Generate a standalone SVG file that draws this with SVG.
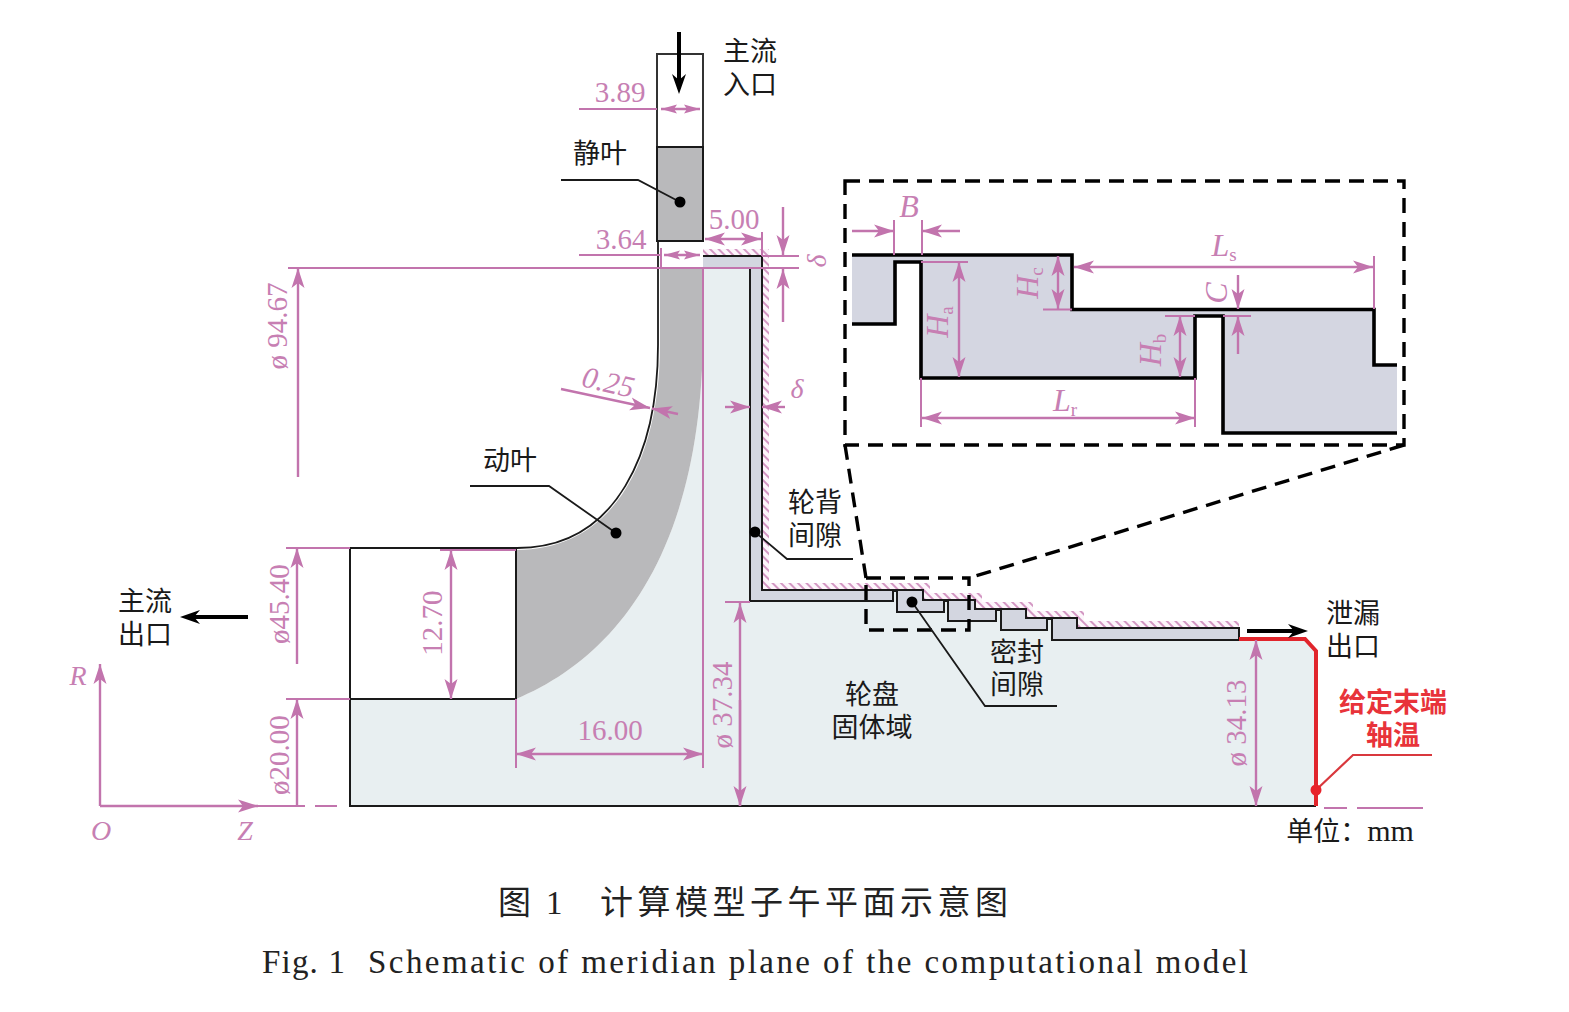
<svg xmlns="http://www.w3.org/2000/svg" width="1569" height="1012" viewBox="0 0 1569 1012">
<style>
.d{stroke:#c274ad;stroke-width:2;fill:none}
.da{stroke:#c274ad;stroke-width:2.4;fill:none;marker-start:url(#a);marker-end:url(#a)}
.de{stroke:#c274ad;stroke-width:2.4;fill:none;marker-end:url(#a)}
.ds{stroke:#c274ad;stroke-width:2.4;fill:none;marker-start:url(#as);marker-end:url(#as)}
.k{stroke:#1a1a1a;stroke-width:2;fill:none}
.ks{stroke:#000;stroke-width:3.6;fill:none}
.bd{stroke:#000;stroke-width:3.4;fill:none;stroke-dasharray:15 9}
.l{stroke:#1a1a1a;stroke-width:1.8;fill:none}
.cn{font-family:"Noto Sans CJK SC",sans-serif;font-size:27px;fill:#1a1a1a;text-anchor:middle}
.n{font-family:"Liberation Serif",serif;font-size:29px;fill:#c77fb3;text-anchor:middle}
.i{font-family:"Liberation Serif",serif;font-style:italic;font-size:28px;fill:#c77fb3;text-anchor:middle}
.b{font-size:32px}
.sub{font-size:19px;font-style:normal}
.red{fill:#e8333a;font-weight:700}
.arw{stroke:#000;stroke-width:4;fill:none;marker-end:url(#k)}
</style>
<defs>
<marker id="a" markerUnits="userSpaceOnUse" markerWidth="22" markerHeight="16" refX="20" refY="8" orient="auto-start-reverse"><path d="M0,1.5 L20,8 L0,14.5 L5,8 Z" fill="#c274ad"/></marker>
<marker id="as" markerUnits="userSpaceOnUse" markerWidth="18" markerHeight="10" refX="16" refY="5" orient="auto-start-reverse"><path d="M0,0.5 L16,5 L0,9.5 L3,5 Z" fill="#c274ad"/></marker>
<marker id="k" markerUnits="userSpaceOnUse" markerWidth="24" markerHeight="18" refX="14" refY="9" orient="auto"><path d="M2,2 L22,9 L2,16 L8,9 Z" fill="#000"/></marker>
<pattern id="h" width="6" height="6" patternUnits="userSpaceOnUse" patternTransform="rotate(-45)"><rect width="6" height="6" fill="#fdf6fb"/><line x1="2" y1="0" x2="2" y2="6" stroke="#cf8dbd" stroke-width="1.8"/></pattern>
</defs>
<rect width="1569" height="1012" fill="#fff"/>

<g id="disk">
<path d="M350,699 H516 C610,660 703,560 703,330 V268 H750 V601 H893 V591 H897 V612 H944 V601 H948 V621 H996 V610 H1001 V630 H1047 V619 H1052 V640 H1239 L1305,639 L1316,651 V806 H350 Z" fill="#e8eff1"/>
</g>
<g id="hatch">
<path d="M703,249 H769 V583 H930 V593 H982 V602 H1033 V611 H1084 V621 H1239 V628 H1077 V618 H1026 V609 H975 V600 H923 V590 H762 V256 H703 Z" fill="url(#h)"/>
</g>
<g id="gap">
<path d="M703,256 H762 V590 H923 V600 H975 V609 H1026 V618 H1077 V628 H1239 V640 H1052 V619 H1047 V630 H1001 V610 H996 V621 H948 V601 H944 V612 H897 V591 H893 V601 H750 V268 H703 Z" fill="#d3d6e0"/>
<path class="k" d="M703,256 H762 V590 H923 V600 H975 V609 H1026 V618 H1077 V628 H1239 V640 H1052 V619 H1047 V630 H1001 V610 H996 V621 H948 V601 H944 V612 H897 V591 H893 V601 H750 V268 H703"/>
</g>
<g id="rotor-blade">
<path d="M660,268 H703 V330 C703,560 610,660 516,699 V550 C620,550 660,450 660,345 Z" fill="#b9b9bb"/>
<path d="M658,241 V345 C658,450 618,548 517,548 H350" fill="none" stroke="#1a1a1a" stroke-width="1.8"/>
</g>
<g id="outlet-duct"><path class="k" d="M350,548 V806 H1316 M350,699 H516 V548"/></g>
<g id="inlet">
<rect x="657" y="54" width="46" height="93" fill="#fff" stroke="#333" stroke-width="2"/>
<rect x="657" y="147" width="46" height="94" fill="#b9b9bb" stroke="#1a1a1a" stroke-width="2"/>
</g>
<g id="tip-red"><path d="M1239,639 H1305 L1316,651 V806" fill="none" stroke="#e1252c" stroke-width="4"/><path d="M1316,790 L1353,755 H1432" fill="none" stroke="#d9383d" stroke-width="2.2"/><circle cx="1316" cy="790" r="5.5" fill="#e8222a"/></g>

<g id="dimensions">
<path class="d" d="M288,268 H799 M579,109 H657 M579,255 H660 M661,248 V268 M703,268 V768 M762,232 V256 M762,256 H799 M286,548 H350 M286,699 H350 M440,550 H516 M516,699 V768 M725,602 H750"/>
<path class="ds" d="M661,109 H700"/><path class="ds" d="M664,255 H700"/>
<path class="da" d="M705,239 H761"/>
<path class="de" d="M783,207 V255"/><path class="de" d="M783,322 V269"/>
<path class="de" d="M725,407 H750"/><path class="de" d="M785,407 H762"/>
<path class="de" d="M561,389 L650,408"/><path class="de" d="M678,414 L652,408.5"/>
<path class="de" d="M298,477 V268"/><path class="de" d="M297,664 V548"/><path class="de" d="M297,806 V699"/>
<path class="da" d="M451,550 V699"/><path class="da" d="M516,754 H703"/>
<path class="de" d="M740,806 V603"/><path class="de" d="M740,700 V806"/>
<path class="da" d="M1256,640 V806"/>
<path class="de" d="M100,806 V664"/><path class="de" d="M100,806 H258"/>
<path class="d" d="M258,806 H305 M315,806 H337"/>
<path class="d" d="M1324,808 H1347 M1357,808 H1423"/>
<text class="n" x="620" y="102">3.89</text>
<text class="n" x="621" y="249">3.64</text>
<text class="n" x="734" y="229">5.00</text>
<text class="n" x="610" y="740">16.00</text>
<text class="n" transform="translate(442,623) rotate(-90)">12.70</text>
<text class="n" transform="translate(287,326) rotate(-90)">ø 94.67</text>
<text class="n" transform="translate(289,604) rotate(-90)">ø45.40</text>
<text class="n" transform="translate(289,755) rotate(-90)">ø20.00</text>
<text class="n" transform="translate(732,705) rotate(-90)">ø 37.34</text>
<text class="n" transform="translate(1246,723) rotate(-90)">ø 34.13</text>
<text class="i" style="font-size:30px" transform="translate(606,392) rotate(13)">0.25</text>
<text class="i" transform="translate(826,261) rotate(-90)">δ</text>
<text class="i" x="797" y="398">δ</text>
<text class="i" x="78" y="685">R</text>
<text class="i" x="101" y="840">O</text>
<text class="i" x="245" y="840">Z</text>
</g>

<g id="inset">
<path class="bd" d="M845,181 H1404 V445 H845 Z"/>
<path class="bd" d="M866,578 H969 V630 H866 Z"/>
<path class="bd" d="M845,445 L866,578 M1404,445 L969,578"/>
<path d="M852,255 H1072 V309.5 H1374 V365 H1397 V433 H1223 V316 H1195 V378 H921 V262 H895 V324 H852 Z" fill="#d4d6e1"/>
<path class="ks" d="M852,255 H1072 V309.5 H1374 V365 H1397 M852,324 H895 V262 H921 V378 H1195 V316 H1223 V433 H1397"/>
<path class="d" d="M894,220 V255 M922,220 V255 M921,262 H968 M1043,309.5 H1072 M1165,316 H1195 M1223,316 H1251 M1374,256 V309 M921,378 V427 M1195,378 V427"/>
<path class="de" d="M852,231 H894"/><path class="de" d="M960,231 H922"/>
<path class="da" d="M959,262 V377"/><path class="da" d="M1058,256 V309"/><path class="da" d="M1180,316 V377"/>
<path class="de" d="M1238,275 V309"/><path class="de" d="M1238,354 V316"/>
<path class="da" d="M1074,267 H1373"/><path class="da" d="M922,418 H1195"/>
<text class="i b" x="909" y="217">B</text>
<text class="i b" x="1224" y="256">L<tspan class="sub" dy="5">s</tspan></text>
<text class="i b" x="1065" y="411">L<tspan class="sub" dy="5">r</tspan></text>
<text class="i b" transform="translate(948,322) rotate(-90)">H<tspan class="sub" dy="5">a</tspan></text>
<text class="i b" transform="translate(1038,283) rotate(-90)">H<tspan class="sub" dy="5">c</tspan></text>
<text class="i b" transform="translate(1161,350) rotate(-90)">H<tspan class="sub" dy="5">b</tspan></text>
<text class="i b" transform="translate(1227,293) rotate(-90)">C</text>
</g>

<g id="flow-arrows">
<path class="arw" d="M679,32 V86"/>
<path class="arw" d="M248,617 H188"/>
<path class="arw" d="M1247,631 H1300"/>
</g>
<g id="leaders">
<path class="l" d="M561,180 H638 L680,202"/><circle cx="680" cy="202" r="5.5"/>
<path class="l" d="M470,486 H549 L616,533"/><circle cx="616" cy="533" r="5.5"/>
<path class="l" d="M755,532 L787,559 H853"/><circle cx="755" cy="532" r="5.5"/>
<path class="l" d="M912,602 L985,706 H1057"/><circle cx="912" cy="602" r="5.5"/>
</g>
<g id="labels">
<text class="cn" x="750" y="61">主流<tspan x="750" dy="33">入口</tspan></text>
<text class="cn" x="600" y="163">静叶</text>
<text class="cn" x="510" y="470">动叶</text>
<text class="cn" x="815" y="512">轮背<tspan x="815" dy="33">间隙</tspan></text>
<text class="cn" x="1017" y="662">密封<tspan x="1017" dy="32">间隙</tspan></text>
<text class="cn" x="872" y="704">轮盘<tspan x="872" dy="33">固体域</tspan></text>
<text class="cn" x="145" y="611">主流<tspan x="145" dy="33">出口</tspan></text>
<text class="cn" x="1353" y="623">泄漏<tspan x="1353" dy="33">出口</tspan></text>
<text class="cn red" x="1393" y="712">给定末端<tspan x="1393" dy="33">轴温</tspan></text>
<text class="cn" x="1350" y="841">单位：<tspan font-family="Liberation Serif" font-size="30">mm</tspan></text>
</g>
<g id="caption">
<text font-family="Noto Sans CJK SC,sans-serif" font-size="33" fill="#222" x="498" y="914">图</text>
<text font-family="Liberation Serif,serif" font-size="33" fill="#222" x="546" y="914">1</text>
<text font-family="Noto Sans CJK SC,sans-serif" font-size="33" fill="#222" x="600" y="914" textLength="408">计算模型子午平面示意图</text>
<text font-family="Liberation Serif,serif" font-size="33" fill="#222" x="262" y="973" textLength="83">Fig. 1</text>
<text font-family="Liberation Serif,serif" font-size="33" fill="#222" x="368" y="973" textLength="880">Schematic of meridian plane of the computational model</text>
</g>
</svg>
